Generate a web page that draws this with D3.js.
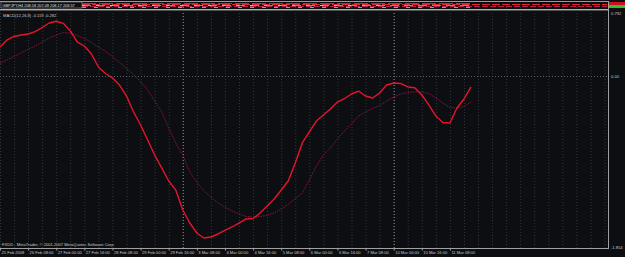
<!DOCTYPE html>
<html><head><meta charset="utf-8">
<script src="https://cdn.jsdelivr.net/npm/d3@7/dist/d3.min.js"></script>
<style>
html,body{margin:0;padding:0;background:#0c0e11;overflow:hidden;}
svg{display:block;}
text{font-family:"Liberation Sans Narrow","Liberation Sans",Arial,sans-serif;}
</style></head>
<body>
<script>
// ---- data ----
const symbolLabel = "GBPJPY,H4  208.58 207.09 208.17 208.57";
const macdLabel = "MACD(12,26,9) -0.119 -0.282";
const copyright = "FXDD - MetaTrader, \u00a9 2001-2007 MetaQuotes Software Corp.";
const xLabels = ["25 Feb 2008","26 Feb 08:00","27 Feb 00:00","27 Feb 16:00","28 Feb 08:00","29 Feb 00:00","29 Feb 16:00","3 Mar 08:00","4 Mar 00:00","4 Mar 16:00","5 Mar 08:00","6 Mar 00:00","6 Mar 16:00","7 Mar 08:00","10 Mar 00:00","10 Mar 16:00","11 Mar 08:00"];
const weekSeparators = [26, 56];
const yTickValues = [0.792, 0, -1.854];
const yTickLabels = ["0.792", "0.00", "-1.854"];
const macdMain = [0.365,0.453,0.497,0.515,0.528,0.557,0.610,0.666,0.688,0.662,
 0.566,0.427,0.377,0.277,0.113,0.031,-0.022,-0.098,-0.217,-0.390,
 -0.531,-0.694,-0.857,-0.997,-1.138,-1.236,-1.453,-1.594,-1.702,-1.756,
 -1.746,-1.713,-1.675,-1.637,-1.594,-1.550,-1.545,-1.485,-1.409,-1.334,
 -1.236,-1.138,-0.943,-0.726,-0.607,-0.488,-0.423,-0.358,-0.282,-0.244,
 -0.195,-0.163,-0.217,-0.239,-0.184,-0.098,-0.076,-0.081,-0.119,-0.127,
 -0.206,-0.314,-0.434,-0.504,-0.510,-0.347,-0.249,-0.119];
const macdSignal = [0.160,0.201,0.248,0.289,0.336,0.377,0.424,0.478,0.515,0.547,
 0.541,0.509,0.471,0.424,0.365,0.308,0.245,0.170,0.094,0.019,
 -0.062,-0.152,-0.271,-0.390,-0.564,-0.726,-0.857,-1.041,-1.149,-1.247,
 -1.312,-1.377,-1.420,-1.464,-1.496,-1.523,-1.529,-1.523,-1.512,-1.485,
 -1.442,-1.393,-1.328,-1.269,-1.128,-0.976,-0.857,-0.781,-0.683,-0.596,
 -0.520,-0.434,-0.390,-0.352,-0.320,-0.271,-0.228,-0.195,-0.179,-0.173,
 -0.173,-0.190,-0.239,-0.293,-0.342,-0.347,-0.331,-0.282];

// ---- layout ----
const W = 625, H = 257;
const plotRight = 608, subTop = 10, subBottom = 248, stripTop = 1;
const svg = d3.select("body").append("svg").attr("width", W).attr("height", H);
svg.append("rect").attr("width", W).attr("height", H).attr("fill", "#0c0e11");

const x = d3.scaleLinear().domain([0, macdMain.length - 1]).range([0, 471]);
const y = d3.scaleLinear().domain([-1.854, 0, 0.792]).range([247, 76, 13]);
const barStep = x(1) - x(0);
const maxBar = Math.floor(plotRight / barStep);

// font size so that "26 Feb 08:00" is about 24px wide
const probe = svg.append("text").attr("font-size", 10).text("26 Feb 08:00");
const fs = Math.min(5, 10 * 24 / probe.node().getComputedTextLength());
probe.remove();
const txt = "#c8c8c8";

// vertical grid every 2 bars
const gridBars = d3.range(0, maxBar + 1, 2);
svg.append("g").selectAll("line").data(gridBars).join("line")
  .attr("x1", d => x(d) + 0.5).attr("x2", d => x(d) + 0.5)
  .attr("y1", stripTop).attr("y2", subBottom)
  .attr("stroke", "#34373c").attr("stroke-width", 1).attr("stroke-dasharray", "1,2");

// week separators
svg.append("g").selectAll("line").data(weekSeparators).join("line")
  .attr("x1", d => x(d) + 0.5).attr("x2", d => x(d) + 0.5)
  .attr("y1", stripTop).attr("y2", subBottom)
  .attr("stroke", "#8c8f94").attr("stroke-width", 1).attr("stroke-dasharray", "1,2");

// horizontal zero level
svg.append("line").attr("x1", 0).attr("x2", plotRight).attr("y1", Math.round(y(0)) + 0.5).attr("y2", Math.round(y(0)) + 0.5)
  .attr("stroke", "#5a5d62").attr("stroke-dasharray", "1,2");

// top collapsed price strip
const strip = svg.append("g");
const stripRows = [
  {c: "#c4206a", y: 3.5, to: 471, dash: "14,3"},
  {c: "#e02a2a", y: 4.5, to: 607, dash: "8,2"},
  {c: "#3cc23c", y: 5.5, to: 471, dash: "9,5"},
  {c: "#d8d040", y: 5.5, to: 380, dash: "3,11"},
  {c: "#b0204c", y: 6.5, to: 607, dash: "6,2"},
  {c: "#50d050", y: 7.5, to: 471, dash: "4,8"}
];
strip.selectAll("line").data(stripRows).join("line")
  .attr("x1", 82).attr("x2", d => d.to).attr("y1", d => d.y).attr("y2", d => d.y)
  .attr("stroke", d => d.c).attr("stroke-width", 1).attr("stroke-dasharray", d => d.dash);
strip.append("rect").attr("x", 1).attr("y", 2).attr("width", 81).attr("height", 6).attr("fill", "#0c0e11").attr("stroke", "#909090").attr("stroke-width", 0.6);
strip.append("text").attr("x", 2.5).attr("y", 6.8).attr("fill", "#e0e0e0").attr("font-size", fs * 0.95).text(symbolLabel);
// price label boxes at right
svg.append("rect").attr("x", plotRight + 1).attr("y", 2).attr("width", W - plotRight).attr("height", 3).attr("fill", "#d01020");
svg.append("rect").attr("x", plotRight + 1).attr("y", 5).attr("width", W - plotRight).attr("height", 3).attr("fill", "#30c030");

// frames
svg.append("line").attr("x1", 0).attr("x2", plotRight).attr("y1", stripTop + 0.5).attr("y2", stripTop + 0.5).attr("stroke", "#9a9a9a");
svg.append("line").attr("x1", 0).attr("x2", plotRight).attr("y1", subTop - 0.5).attr("y2", subTop - 0.5).attr("stroke", "#b0b0b0");
svg.append("line").attr("x1", 0).attr("x2", plotRight).attr("y1", subTop + 0.5).attr("y2", subTop + 0.5).attr("stroke", "#505050");
svg.append("line").attr("x1", 0).attr("x2", plotRight + 1).attr("y1", subBottom + 0.5).attr("y2", subBottom + 0.5).attr("stroke", "#a0a0a0");
svg.append("line").attr("x1", plotRight + 0.5).attr("x2", plotRight + 0.5).attr("y1", stripTop).attr("y2", subBottom + 1).attr("stroke", "#a0a0a0");

// lines
const line = d3.line().x((d, i) => x(i)).y(d => y(d));
svg.append("path").datum(macdSignal).attr("d", line).attr("fill", "none")
  .attr("stroke", "#8a1444").attr("stroke-width", 1).attr("stroke-dasharray", "1.5,1");
svg.append("path").datum(macdMain).attr("d", line).attr("fill", "none")
  .attr("stroke", "#e8142c").attr("stroke-width", 1.4).attr("stroke-linejoin", "round");

// texts
svg.append("text").attr("x", 3).attr("y", 16.5).attr("fill", txt).attr("font-size", fs).text(macdLabel);
svg.append("text").attr("x", 2).attr("y", 246).attr("fill", txt).attr("font-size", fs).text(copyright);

// right axis
const yAxis = d3.axisRight(y).tickValues(yTickValues).tickSize(0).tickPadding(2)
  .tickFormat((d, i) => yTickLabels[i]);
const ya = svg.append("g").attr("transform", `translate(${plotRight + 1},0)`).call(yAxis);
ya.select(".domain").remove();
ya.selectAll("text").attr("fill", txt).attr("font-size", fs).attr("font-family", null);

// bottom axis
const labelBars = xLabels.map((_, i) => i * 4);
const xAxis = d3.axisBottom(x).tickValues(labelBars).tickSize(2).tickPadding(1)
  .tickFormat((d, i) => xLabels[i]);
const xa = svg.append("g").attr("transform", `translate(0,${subBottom + 0.5})`).call(xAxis);
xa.select(".domain").remove();
xa.selectAll("line").attr("stroke", "#a0a0a0");
xa.selectAll("text").attr("fill", txt).attr("font-size", fs).attr("text-anchor", "start")
  .attr("dx", 1).attr("dy", "0.55em").attr("font-family", null);
</script>
</body></html>
